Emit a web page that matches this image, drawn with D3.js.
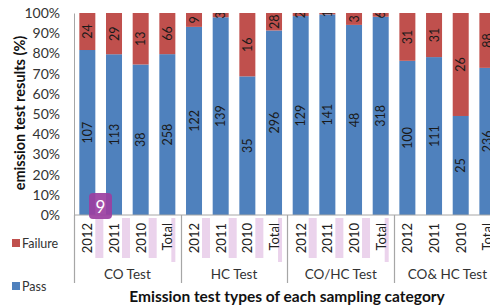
<html>

<head>
  <script src="https://d3js.org/d3.v7.min.js"></script>
  <style>
    body { margin: 0; background: #fff; }
    text { font-family: Lato, "Open Sans", sans-serif; }
  </style>
</head>

<body>
  <svg id="chart" width="490" height="307"></svg>

  <script>
    // data
    const groups = ["CO Test", "HC Test", "CO/HC Test", "CO& HC Test"];
    const years = ["2012", "2011", "2010", "Total"];
    const pass = [107, 113, 38, 258, 122, 139, 35, 296, 129, 141, 48, 318, 100, 111, 25, 236];
    const failure = [24, 29, 13, 66, 9, 3, 16, 28, 2, 1, 3, 6, 31, 31, 26, 88];
    const yTicks = [0, 10, 20, 30, 40, 50, 60, 70, 80, 90, 100];

    const svg = d3.select("svg#chart");
    const margins = { top: 13, left: 74, bottom: 92 };
    const height = +svg.attr("height");
    const plotBottom = height - margins.bottom;

    const cats = [];
    groups.forEach((g, gi) => years.forEach((y, yi) => cats.push({ key: gi + "-" + y, group: gi, year: y })));

    const rows = cats.map((c, i) => {
      const tot = pass[i] + failure[i];
      return { key: c.key, year: c.year, pass: pass[i], failure: failure[i], p: pass[i] / tot * 100, f: failure[i] / tot * 100 };
    });

    const xScale = d3.scaleBand().domain(cats.map(c => c.key))
      .range([margins.left, margins.left + 16 * 26.67])
      .paddingInner(0.4).paddingOuter(0.2);
    const yScale = d3.scaleLinear().domain([0, 100]).range([plotBottom, margins.top]);

    const blue = "#4f81bd";
    const red = "#c0504d";

    svg.append("clipPath").attr("id", "plotclip")
      .append("rect").attr("x", margins.left).attr("y", margins.top)
      .attr("width", 500).attr("height", plotBottom - margins.top);

    const bars = svg.append("g");
    rows.forEach(d => {
      bars.append("rect")
        .attr("x", xScale(d.key)).attr("width", xScale.bandwidth())
        .attr("y", yScale(d.p)).attr("height", yScale(0) - yScale(d.p))
        .attr("fill", blue);
      bars.append("rect")
        .attr("x", xScale(d.key)).attr("width", xScale.bandwidth())
        .attr("y", yScale(100)).attr("height", yScale(d.p) - yScale(100))
        .attr("fill", red);
    });

    // value labels inside segments
    const labels = svg.append("g").attr("clip-path", "url(#plotclip)");
    rows.forEach(d => {
      const cx = xScale(d.key) + xScale.bandwidth() / 2;
      [[d.pass, d.p / 2], [d.failure, d.p + d.f / 2]].forEach(([v, mid]) => {
        labels.append("text")
          .attr("transform", `translate(${cx + 4.5}, ${yScale(mid)}) rotate(-90)`)
          .attr("text-anchor", "middle")
          .attr("font-size", 12.5)
          .attr("fill", "#1a1a1a")
          .text(v);
      });
    });

    // y axis
    const yAxis = svg.append("g")
      .attr("transform", `translate(${margins.left},0)`)
      .call(d3.axisLeft(yScale).tickValues(yTicks).tickFormat(d => d + "%").tickSize(0).tickPadding(14));
    yAxis.select(".domain").attr("stroke", "#a6a6a6");
    yAxis.selectAll("text").attr("font-size", 14).attr("fill", "#333")
      .style("font-family", "Lato, sans-serif");

    // bottom axis line + group separators
    svg.append("line").attr("x1", margins.left).attr("x2", 490)
      .attr("y1", plotBottom).attr("y2", plotBottom).attr("stroke", "#a6a6a6");
    const step = xScale.step();
    for (let g = 0; g <= groups.length; g++) {
      const x = Math.round(margins.left + g * 4 * step) + 0.5;
      svg.append("line").attr("x1", x).attr("x2", x)
        .attr("y1", plotBottom).attr("y2", plotBottom + 68)
        .attr("stroke", "#a6a6a6").attr("stroke-width", 1.2);
    }

    // pale highlight marks beside the year labels (first three groups)
    cats.forEach((c, i) => {
      if (c.group > 2) return;
      const x = xScale(c.key) + xScale.bandwidth() + (c.year === "Total" ? -4 : 0);
      svg.append("rect")
        .attr("x", x).attr("y", plotBottom + 3)
        .attr("width", c.year === "Total" ? 4 : 8).attr("height", c.year === "Total" ? 44 : 40)
        .attr("fill", "#ebd3ec");
    });

    // year labels
    cats.forEach(c => {
      const cx = xScale(c.key) + xScale.bandwidth() / 2;
      svg.append("text")
        .attr("transform", `translate(${cx + 5}, ${plotBottom + 8}) rotate(-90)`)
        .attr("text-anchor", "end")
        .attr("font-size", 13).attr("fill", "#222")
        .text(c.year);
    });

    // group labels
    groups.forEach((g, gi) => {
      svg.append("text")
        .attr("x", margins.left + (gi * 4 + 2) * step)
        .attr("y", plotBottom + 64)
        .attr("text-anchor", "middle")
        .attr("font-size", 13.5).attr("fill", "#333")
        .text(g);
    });

    // axis titles
    svg.append("text")
      .attr("x", 287).attr("y", 302)
      .attr("text-anchor", "middle")
      .attr("font-size", 15.5).attr("font-weight", "bold").attr("fill", "#111")
      .text("Emission test types of each sampling category");

    svg.append("text")
      .attr("transform", `translate(25, 113) rotate(-90)`)
      .attr("text-anchor", "middle")
      .attr("font-size", 14.5).attr("font-weight", "bold").attr("fill", "#111")
      .text("emission test results (%)");

    // legend
    const legend = [["Failure", red, 248], ["Pass", blue, 291]];
    legend.forEach(([name, col, y]) => {
      svg.append("rect").attr("x", 12).attr("y", y - 9).attr("width", 8).attr("height", 8).attr("fill", col);
      svg.append("text").attr("x", 22).attr("y", y).attr("font-size", 12.5).attr("fill", "#333").text(name);
    });

    // purple badge
    svg.append("rect").attr("x", 89).attr("y", 193).attr("width", 23).attr("height", 26)
      .attr("rx", 4).attr("fill", "#9b3fa1").attr("opacity", 0.92);
    svg.append("text").attr("x", 100.5).attr("y", 213).attr("text-anchor", "middle")
      .attr("font-size", 17).attr("fill", "#fff").text("9");
  </script>

</body>

</html>
